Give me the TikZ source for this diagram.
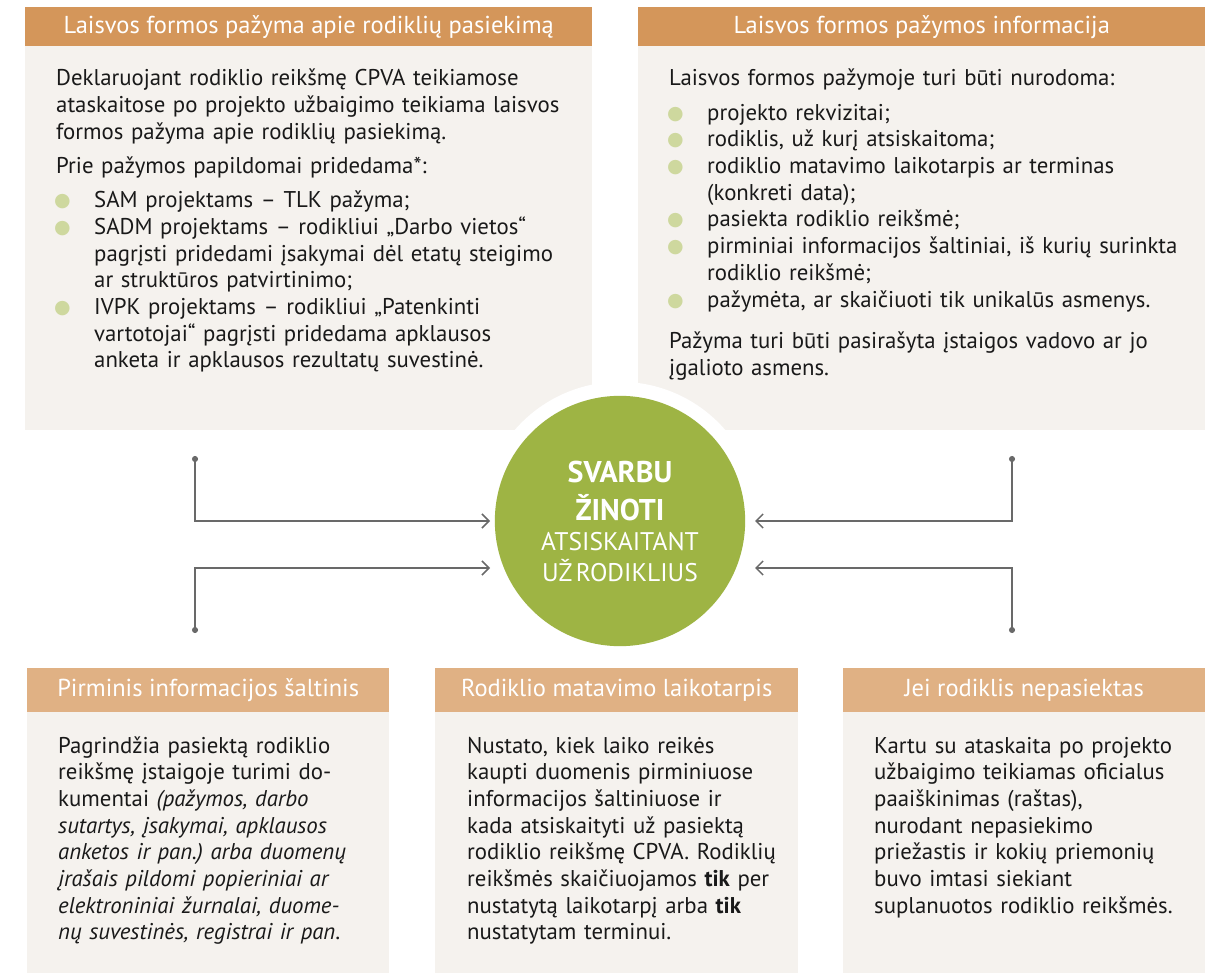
\documentclass[tikz,border=0pt]{standalone}
\usepackage{fontspec}
\setmainfont{PT Sans}
\newfontfamily\dotfont{DejaVu Sans}
\usetikzlibrary{arrows.meta}
\usetikzlibrary{positioning}
\frenchspacing

\definecolor{headtop}{RGB}{212,150,90}
\definecolor{headlow}{RGB}{224,177,132}
\definecolor{paper}{RGB}{245,242,238}
\definecolor{leafgreen}{RGB}{158,180,68}
\definecolor{budgreen}{RGB}{206,216,158}
\definecolor{wirecol}{RGB}{105,105,105}
\definecolor{ink}{RGB}{25,25,25}

% one bullet line of a card, continuation lines with \newline
\newcommand\dotitem[1]{\par\hangindent=38pt\hangafter=1\noindent
  \makebox[38pt][l]{\hspace{-2pt}\raisebox{1pt}{\textcolor{budgreen}{\dotfont\fontsize{19}{19}\selectfont ●}}}#1\par}

\begin{document}
\begin{tikzpicture}[x=1pt,y=-1pt,
  card/.style={fill=paper, inner sep=0pt, anchor=north west},
  headbar/.style={fill=#1, text=white, inner sep=0pt, anchor=north west,
    font=\fontsize{24.5}{28}\selectfont},
  cardtext/.style={text=ink, inner sep=0pt, anchor=base west, align=left,
    font=\fontsize{22.8}{26.7}\selectfont},
  hub/.style={circle, fill=leafgreen, minimum size=228pt, inner sep=0pt,
    text=white, align=center, text width=220pt,
    preaction={draw=white, line width=28pt}},
  wire/.style={draw=wirecol, line width=1.5pt,
    {Circle[length=6pt]}-{Straight Barb[length=7pt,width=14pt]}}]
\useasboundingbox (0,0) rectangle (1211,973);

% upper cards
\node[card, minimum width=567pt, minimum height=423pt] (cardA) at (25,7) {};
\node[headbar=headtop, minimum width=567pt, minimum height=39pt] (headA) at (25,7)
  {Laisvos formos pažyma apie rodiklių pasiekimą};
\node[card, minimum width=567pt, minimum height=423pt] (cardB) at (638,7) {};
\node[headbar=headtop, minimum width=567pt, minimum height=39pt] (headB) at (638,7)
  {Laisvos formos pažymos informacija};

% lower cards
\node[card, minimum width=362pt, minimum height=305pt] (cardC) at (27,668) {};
\node[headbar=headlow, minimum width=362pt, minimum height=44pt] (headC) at (27,668)
  {Pirminis informacijos šaltinis};
\node[card, minimum width=363pt, minimum height=305pt] (cardD) at (435,668) {};
\node[headbar=headlow, minimum width=363pt, minimum height=44pt] (headD) at (435,668)
  {Rodiklio matavimo laikotarpis};
\node[card, minimum width=362pt, minimum height=305pt] (cardE) at (843,668) {};
\node[headbar=headlow, minimum width=362pt, minimum height=44pt] (headE) at (843,668)
  {Jei rodiklis nepasiektas};

% texts
\node[cardtext, text width=530pt] (txtA) at (56,86) {%
  Deklaruojant rodiklio reikšmę CPVA teikiamose\newline
  ataskaitose po projekto užbaigimo teikiama laisvos\newline
  formos pažyma apie rodiklių pasiekimą.\par\vspace{7.5pt}
  \noindent Prie pažymos papildomai pridedama*:\par\vspace{7.5pt}
  \dotitem{SAM projektams – TLK pažyma;}
  \dotitem{SADM projektams – rodikliui „Darbo vietos“\newline
    pagrįsti pridedami įsakymai dėl etatų steigimo\newline
    ar struktūros patvirtinimo;}
  \dotitem{IVPK projektams – rodikliui „Patenkinti\newline
    vartotojai“ pagrįsti pridedama apklausos\newline
    anketa ir apklausos rezultatų suvestinė.}};
\node[cardtext, text width=530pt] (txtB) at (669,86) {%
  Laisvos formos pažymoje turi būti nurodoma:\par\vspace{7.5pt}
  \dotitem{projekto rekvizitai;}
  \dotitem{rodiklis, už kurį atsiskaitoma;}
  \dotitem{rodiklio matavimo laikotarpis ar terminas\newline (konkreti data);}
  \dotitem{pasiekta rodiklio reikšmė;}
  \dotitem{pirminiai informacijos šaltiniai, iš kurių surinkta\newline rodiklio reikšmė;}
  \dotitem{pažymėta, ar skaičiuoti tik unikalūs asmenys.}
  \vspace{15pt}
  \noindent Pažyma turi būti pasirašyta įstaigos vadovo ar jo\newline
  įgalioto asmens.};
\node[cardtext, text width=325pt] (txtC) at (58,753) {%
  Pagrindžia pasiektą rodiklio\newline
  reikšmę įstaigoje turimi do-\newline
  kumentai \textit{(pažymos, darbo\newline
  sutartys, įsakymai, apklausos\newline
  anketos ir pan.) arba duomenų\newline
  įrašais pildomi popieriniai ar\newline
  elektroniniai žurnalai, duome-\newline
  nų suvestinės, registrai ir pan}.};
\node[cardtext, text width=325pt] (txtD) at (467,753) {%
  Nustato, kiek laiko reikės\newline
  kaupti duomenis pirminiuose\newline
  informacijos šaltiniuose ir\newline
  kada atsiskaityti už pasiektą\newline
  rodiklio reikšmę CPVA. Rodiklių\newline
  reikšmės skaičiuojamos \textbf{tik} per\newline
  nustatytą laikotarpį arba \textbf{tik}\newline
  nustatytam terminui.};
\node[cardtext, text width=325pt] (txtE) at (874,753) {%
  Kartu su ataskaita po projekto\newline
  užbaigimo teikiamas oficialus\newline
  paaiškinimas (raštas),\newline
  nurodant nepasiekimo\newline
  priežastis ir kokių priemonių\newline
  buvo imtasi siekiant\newline
  suplanuotos rodiklio reikšmės.};

% centre
\node[hub] (hub) at (620,521) {%
  {\fontsize{30}{38}\selectfont\bfseries SVARBU\par ŽINOTI\par}%
  {\fontsize{25.5}{30.5}\selectfont ATSISKAITANT\par UŽ RODIKLIUS\par}};

% connectors
\coordinate (dotL1) at (195,456);
\coordinate (dotL2) at (195,633);
\coordinate (dotR1) at (1012,456);
\coordinate (dotR2) at (1012,633);
\coordinate (tipL1) at (490,521);
\coordinate (tipL2) at (490,568);
\coordinate (tipR1) at (755,521);
\coordinate (tipR2) at (755,568);
\draw[wire] (dotL1) |- (tipL1);
\draw[wire] (dotL2) |- (tipL2);
\draw[wire] (dotR1) |- (tipR1);
\draw[wire] (dotR2) |- (tipR2);
\end{tikzpicture}
\end{document}
